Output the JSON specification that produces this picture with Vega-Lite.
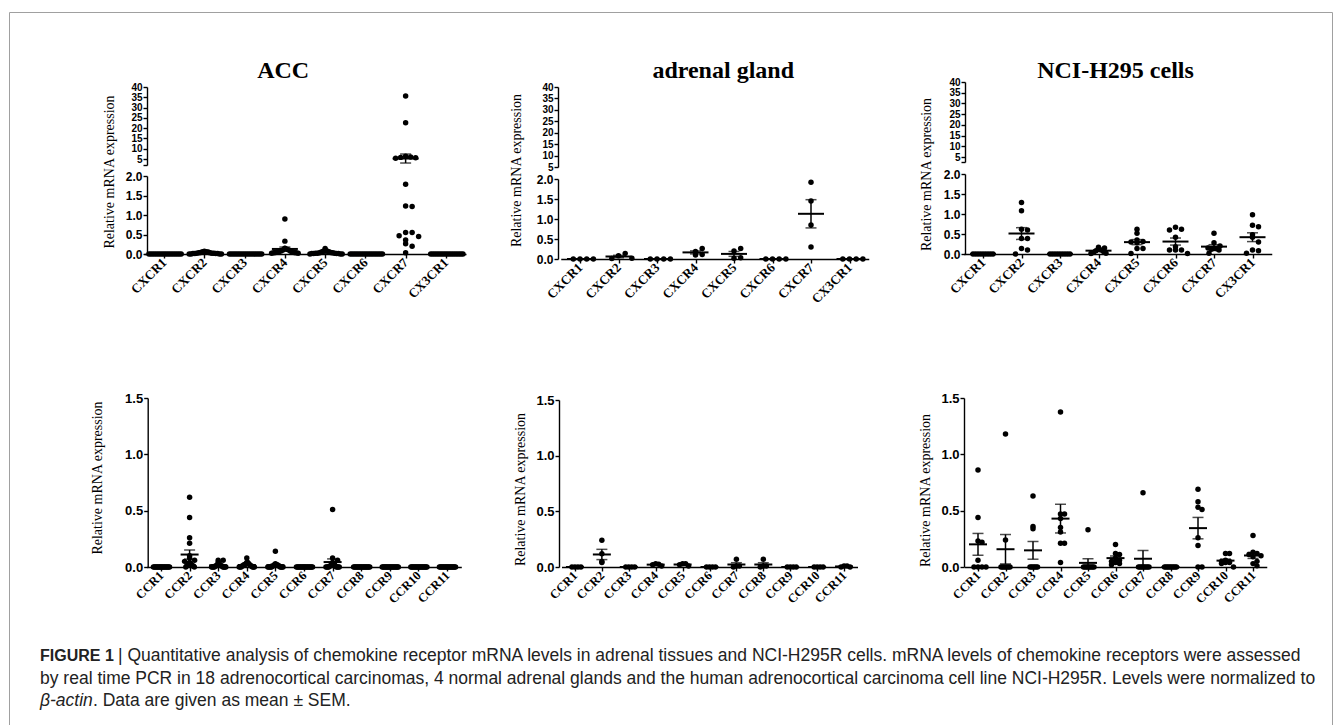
{
"$schema": "https://vega.github.io/schema/vega-lite/v6.json",
"width": 1323,
"height": 714,
"autosize": "none",
"padding": {"left": 9, "top": 12, "right": 10, "bottom": -1},
"background": "#ffffff",
"view": {"stroke": "#a0a0a0", "strokeWidth": 1},
"config": {
 "axis": {"domainColor": "#000", "domainWidth": 1.4, "tickColor": "#000", "tickWidth": 1.4, "tickSize": 4, "labelColor": "#000", "titleColor": "#000", "grid": false, "labelOverlap": false, "labelPadding": 1},
 "axisY": {"labelFont": "Liberation Sans", "labelFontWeight": "bold", "titleFont": "Liberation Serif", "titleFontWeight": "normal", "titleFontSize": 14, "titleAngle": 270, "titleAlign": "center", "titleBaseline": "middle"},
 "axisX": {"labelFont": "Liberation Serif", "labelFontWeight": "bold", "labelAngle": -45, "labelAlign": "right", "labelBaseline": "middle", "labelPadding": 2, "titleFont": "Liberation Serif", "titleFontWeight": "bold", "titleFontSize": 24, "titleAlign": "center", "titleBaseline": "alphabetic"}
},
"datasets": {
 "acc_cxcr": [
  {"receptor":"CXCR1","value":0},{"receptor":"CXCR1","value":0},{"receptor":"CXCR1","value":0},{"receptor":"CXCR1","value":0},{"receptor":"CXCR1","value":0},{"receptor":"CXCR1","value":0},
  {"receptor":"CXCR1","value":0},{"receptor":"CXCR1","value":0},{"receptor":"CXCR1","value":0},{"receptor":"CXCR1","value":0},{"receptor":"CXCR1","value":0},{"receptor":"CXCR1","value":0},
  {"receptor":"CXCR1","value":0},{"receptor":"CXCR1","value":0},{"receptor":"CXCR1","value":0},{"receptor":"CXCR1","value":0},{"receptor":"CXCR1","value":0},{"receptor":"CXCR1","value":0},
  {"receptor":"CXCR2","value":0.07},{"receptor":"CXCR2","value":0.06},{"receptor":"CXCR2","value":0.06},{"receptor":"CXCR2","value":0.05},{"receptor":"CXCR2","value":0.04},{"receptor":"CXCR2","value":0.03},
  {"receptor":"CXCR2","value":0.03},{"receptor":"CXCR2","value":0.02},{"receptor":"CXCR2","value":0.02},{"receptor":"CXCR2","value":0.02},{"receptor":"CXCR2","value":0.01},{"receptor":"CXCR2","value":0.01},
  {"receptor":"CXCR2","value":0.01},{"receptor":"CXCR2","value":0.01},{"receptor":"CXCR2","value":0},{"receptor":"CXCR2","value":0},{"receptor":"CXCR2","value":0},{"receptor":"CXCR2","value":0},
  {"receptor":"CXCR3","value":0},{"receptor":"CXCR3","value":0},{"receptor":"CXCR3","value":0},{"receptor":"CXCR3","value":0},{"receptor":"CXCR3","value":0},{"receptor":"CXCR3","value":0},
  {"receptor":"CXCR3","value":0},{"receptor":"CXCR3","value":0},{"receptor":"CXCR3","value":0},{"receptor":"CXCR3","value":0},{"receptor":"CXCR3","value":0},{"receptor":"CXCR3","value":0},
  {"receptor":"CXCR3","value":0},{"receptor":"CXCR3","value":0},{"receptor":"CXCR3","value":0},{"receptor":"CXCR3","value":0},{"receptor":"CXCR3","value":0},{"receptor":"CXCR3","value":0},
  {"receptor":"CXCR4","value":0.9},{"receptor":"CXCR4","value":0.33},{"receptor":"CXCR4","value":0.15},{"receptor":"CXCR4","value":0.14},{"receptor":"CXCR4","value":0.12},{"receptor":"CXCR4","value":0.1},
  {"receptor":"CXCR4","value":0.1},{"receptor":"CXCR4","value":0.08},{"receptor":"CXCR4","value":0.07},{"receptor":"CXCR4","value":0.06},{"receptor":"CXCR4","value":0.05},{"receptor":"CXCR4","value":0.05},
  {"receptor":"CXCR4","value":0.04},{"receptor":"CXCR4","value":0.04},{"receptor":"CXCR4","value":0.03},{"receptor":"CXCR4","value":0.03},{"receptor":"CXCR4","value":0.02},{"receptor":"CXCR4","value":0.02},
  {"receptor":"CXCR5","value":0.14},{"receptor":"CXCR5","value":0.08},{"receptor":"CXCR5","value":0.07},{"receptor":"CXCR5","value":0.06},{"receptor":"CXCR5","value":0.05},{"receptor":"CXCR5","value":0.04},
  {"receptor":"CXCR5","value":0.03},{"receptor":"CXCR5","value":0.03},{"receptor":"CXCR5","value":0.02},{"receptor":"CXCR5","value":0.02},{"receptor":"CXCR5","value":0.02},{"receptor":"CXCR5","value":0.01},
  {"receptor":"CXCR5","value":0.01},{"receptor":"CXCR5","value":0.01},{"receptor":"CXCR5","value":0.01},{"receptor":"CXCR5","value":0},{"receptor":"CXCR5","value":0},{"receptor":"CXCR5","value":0},
  {"receptor":"CXCR6","value":0},{"receptor":"CXCR6","value":0},{"receptor":"CXCR6","value":0},{"receptor":"CXCR6","value":0},{"receptor":"CXCR6","value":0},{"receptor":"CXCR6","value":0},
  {"receptor":"CXCR6","value":0},{"receptor":"CXCR6","value":0},{"receptor":"CXCR6","value":0},{"receptor":"CXCR6","value":0},{"receptor":"CXCR6","value":0},{"receptor":"CXCR6","value":0},
  {"receptor":"CXCR6","value":0},{"receptor":"CXCR6","value":0},{"receptor":"CXCR6","value":0},{"receptor":"CXCR6","value":0},{"receptor":"CXCR6","value":0},{"receptor":"CXCR6","value":0},
  {"receptor":"CXCR7","value":35.6},{"receptor":"CXCR7","value":22.6},{"receptor":"CXCR7","value":6.3},{"receptor":"CXCR7","value":6.0},{"receptor":"CXCR7","value":5.8},{"receptor":"CXCR7","value":5.6},
  {"receptor":"CXCR7","value":5.4},{"receptor":"CXCR7","value":1.79},{"receptor":"CXCR7","value":1.23},{"receptor":"CXCR7","value":1.22},{"receptor":"CXCR7","value":0.55},{"receptor":"CXCR7","value":0.55},
  {"receptor":"CXCR7","value":0.47},{"receptor":"CXCR7","value":0.45},{"receptor":"CXCR7","value":0.36},{"receptor":"CXCR7","value":0.26},{"receptor":"CXCR7","value":0.2},{"receptor":"CXCR7","value":0.03},
  {"receptor":"CX3CR1","value":0},{"receptor":"CX3CR1","value":0},{"receptor":"CX3CR1","value":0},{"receptor":"CX3CR1","value":0},{"receptor":"CX3CR1","value":0},{"receptor":"CX3CR1","value":0},
  {"receptor":"CX3CR1","value":0},{"receptor":"CX3CR1","value":0},{"receptor":"CX3CR1","value":0},{"receptor":"CX3CR1","value":0},{"receptor":"CX3CR1","value":0},{"receptor":"CX3CR1","value":0},
  {"receptor":"CX3CR1","value":0},{"receptor":"CX3CR1","value":0},{"receptor":"CX3CR1","value":0},{"receptor":"CX3CR1","value":0},{"receptor":"CX3CR1","value":0},{"receptor":"CX3CR1","value":0}
 ],
 "ag_cxcr": [
  {"receptor":"CXCR1","value":0},{"receptor":"CXCR1","value":0},{"receptor":"CXCR1","value":0},{"receptor":"CXCR1","value":0},
  {"receptor":"CXCR2","value":0.08},{"receptor":"CXCR2","value":0.14},{"receptor":"CXCR2","value":0.01},{"receptor":"CXCR2","value":0.02},
  {"receptor":"CXCR3","value":0},{"receptor":"CXCR3","value":0},{"receptor":"CXCR3","value":0},{"receptor":"CXCR3","value":0},
  {"receptor":"CXCR4","value":0.19},{"receptor":"CXCR4","value":0.1},{"receptor":"CXCR4","value":0.11},{"receptor":"CXCR4","value":0.26},
  {"receptor":"CXCR5","value":0.2},{"receptor":"CXCR5","value":0.26},{"receptor":"CXCR5","value":0.02},{"receptor":"CXCR5","value":0.03},
  {"receptor":"CXCR6","value":0},{"receptor":"CXCR6","value":0},{"receptor":"CXCR6","value":0},{"receptor":"CXCR6","value":0},
  {"receptor":"CXCR7","value":1.92},{"receptor":"CXCR7","value":1.45},{"receptor":"CXCR7","value":0.85},{"receptor":"CXCR7","value":0.3},
  {"receptor":"CX3CR1","value":0},{"receptor":"CX3CR1","value":0},{"receptor":"CX3CR1","value":0},{"receptor":"CX3CR1","value":0}
 ],
 "nci_cxcr": [
  {"receptor":"CXCR1","value":0},{"receptor":"CXCR1","value":0},{"receptor":"CXCR1","value":0},{"receptor":"CXCR1","value":0},{"receptor":"CXCR1","value":0},{"receptor":"CXCR1","value":0},{"receptor":"CXCR1","value":0},{"receptor":"CXCR1","value":0},{"receptor":"CXCR1","value":0},
  {"receptor":"CXCR2","value":1.29},{"receptor":"CXCR2","value":1.08},{"receptor":"CXCR2","value":0.62},{"receptor":"CXCR2","value":0.6},{"receptor":"CXCR2","value":0.39},{"receptor":"CXCR2","value":0.39},{"receptor":"CXCR2","value":0.14},{"receptor":"CXCR2","value":0.1},{"receptor":"CXCR2","value":0},
  {"receptor":"CXCR3","value":0},{"receptor":"CXCR3","value":0},{"receptor":"CXCR3","value":0},{"receptor":"CXCR3","value":0},{"receptor":"CXCR3","value":0},{"receptor":"CXCR3","value":0},{"receptor":"CXCR3","value":0},{"receptor":"CXCR3","value":0},{"receptor":"CXCR3","value":0},
  {"receptor":"CXCR4","value":0.17},{"receptor":"CXCR4","value":0.15},{"receptor":"CXCR4","value":0.12},{"receptor":"CXCR4","value":0.1},{"receptor":"CXCR4","value":0.08},{"receptor":"CXCR4","value":0.06},{"receptor":"CXCR4","value":0.04},{"receptor":"CXCR4","value":0.02},{"receptor":"CXCR4","value":0.01},
  {"receptor":"CXCR5","value":0.62},{"receptor":"CXCR5","value":0.52},{"receptor":"CXCR5","value":0.35},{"receptor":"CXCR5","value":0.31},{"receptor":"CXCR5","value":0.3},{"receptor":"CXCR5","value":0.28},{"receptor":"CXCR5","value":0.14},{"receptor":"CXCR5","value":0.14},{"receptor":"CXCR5","value":0.01},
  {"receptor":"CXCR6","value":0.67},{"receptor":"CXCR6","value":0.62},{"receptor":"CXCR6","value":0.6},{"receptor":"CXCR6","value":0.42},{"receptor":"CXCR6","value":0.18},{"receptor":"CXCR6","value":0.1},{"receptor":"CXCR6","value":0.1},{"receptor":"CXCR6","value":0.1},{"receptor":"CXCR6","value":0.01},
  {"receptor":"CXCR7","value":0.52},{"receptor":"CXCR7","value":0.28},{"receptor":"CXCR7","value":0.2},{"receptor":"CXCR7","value":0.15},{"receptor":"CXCR7","value":0.14},{"receptor":"CXCR7","value":0.13},{"receptor":"CXCR7","value":0.12},{"receptor":"CXCR7","value":0.1},{"receptor":"CXCR7","value":0.02},
  {"receptor":"CX3CR1","value":0.98},{"receptor":"CX3CR1","value":0.72},{"receptor":"CX3CR1","value":0.68},{"receptor":"CX3CR1","value":0.48},{"receptor":"CX3CR1","value":0.42},{"receptor":"CX3CR1","value":0.3},{"receptor":"CX3CR1","value":0.1},{"receptor":"CX3CR1","value":0.08},{"receptor":"CX3CR1","value":0.02}
 ],
 "acc_ccr": [
  {"receptor":"CCR1","value":0},{"receptor":"CCR1","value":0},{"receptor":"CCR1","value":0},{"receptor":"CCR1","value":0},{"receptor":"CCR1","value":0},{"receptor":"CCR1","value":0},
  {"receptor":"CCR1","value":0},{"receptor":"CCR1","value":0},{"receptor":"CCR1","value":0},{"receptor":"CCR1","value":0},{"receptor":"CCR1","value":0},{"receptor":"CCR1","value":0},
  {"receptor":"CCR1","value":0},{"receptor":"CCR1","value":0},{"receptor":"CCR1","value":0},{"receptor":"CCR1","value":0},{"receptor":"CCR1","value":0},{"receptor":"CCR1","value":0},
  {"receptor":"CCR2","value":0.62},{"receptor":"CCR2","value":0.44},{"receptor":"CCR2","value":0.26},{"receptor":"CCR2","value":0.21},{"receptor":"CCR2","value":0.1},{"receptor":"CCR2","value":0.08},
  {"receptor":"CCR2","value":0.06},{"receptor":"CCR2","value":0.05},{"receptor":"CCR2","value":0.04},{"receptor":"CCR2","value":0.03},{"receptor":"CCR2","value":0.03},{"receptor":"CCR2","value":0.02},
  {"receptor":"CCR2","value":0.02},{"receptor":"CCR2","value":0.01},{"receptor":"CCR2","value":0.01},{"receptor":"CCR2","value":0.01},{"receptor":"CCR2","value":0},{"receptor":"CCR2","value":0},
  {"receptor":"CCR3","value":0.06},{"receptor":"CCR3","value":0.06},{"receptor":"CCR3","value":0.04},{"receptor":"CCR3","value":0.03},{"receptor":"CCR3","value":0.02},{"receptor":"CCR3","value":0.02},
  {"receptor":"CCR3","value":0.01},{"receptor":"CCR3","value":0.01},{"receptor":"CCR3","value":0.01},{"receptor":"CCR3","value":0.01},{"receptor":"CCR3","value":0},{"receptor":"CCR3","value":0},
  {"receptor":"CCR3","value":0},{"receptor":"CCR3","value":0},{"receptor":"CCR3","value":0},{"receptor":"CCR3","value":0},{"receptor":"CCR3","value":0},{"receptor":"CCR3","value":0},
  {"receptor":"CCR4","value":0.08},{"receptor":"CCR4","value":0.04},{"receptor":"CCR4","value":0.04},{"receptor":"CCR4","value":0.03},{"receptor":"CCR4","value":0.03},{"receptor":"CCR4","value":0.02},
  {"receptor":"CCR4","value":0.02},{"receptor":"CCR4","value":0.02},{"receptor":"CCR4","value":0.01},{"receptor":"CCR4","value":0.01},{"receptor":"CCR4","value":0.01},{"receptor":"CCR4","value":0.01},
  {"receptor":"CCR4","value":0},{"receptor":"CCR4","value":0},{"receptor":"CCR4","value":0},{"receptor":"CCR4","value":0},{"receptor":"CCR4","value":0},{"receptor":"CCR4","value":0},
  {"receptor":"CCR5","value":0.14},{"receptor":"CCR5","value":0.03},{"receptor":"CCR5","value":0.02},{"receptor":"CCR5","value":0.02},{"receptor":"CCR5","value":0.02},{"receptor":"CCR5","value":0.01},
  {"receptor":"CCR5","value":0.01},{"receptor":"CCR5","value":0.01},{"receptor":"CCR5","value":0.01},{"receptor":"CCR5","value":0},{"receptor":"CCR5","value":0},{"receptor":"CCR5","value":0},
  {"receptor":"CCR5","value":0},{"receptor":"CCR5","value":0},{"receptor":"CCR5","value":0},{"receptor":"CCR5","value":0},{"receptor":"CCR5","value":0},{"receptor":"CCR5","value":0},
  {"receptor":"CCR6","value":0},{"receptor":"CCR6","value":0},{"receptor":"CCR6","value":0},{"receptor":"CCR6","value":0},{"receptor":"CCR6","value":0},{"receptor":"CCR6","value":0},
  {"receptor":"CCR6","value":0},{"receptor":"CCR6","value":0},{"receptor":"CCR6","value":0},{"receptor":"CCR6","value":0},{"receptor":"CCR6","value":0},{"receptor":"CCR6","value":0},
  {"receptor":"CCR6","value":0},{"receptor":"CCR6","value":0},{"receptor":"CCR6","value":0},{"receptor":"CCR6","value":0},{"receptor":"CCR6","value":0},{"receptor":"CCR6","value":0},
  {"receptor":"CCR7","value":0.51},{"receptor":"CCR7","value":0.08},{"receptor":"CCR7","value":0.06},{"receptor":"CCR7","value":0.04},{"receptor":"CCR7","value":0.03},{"receptor":"CCR7","value":0.02},
  {"receptor":"CCR7","value":0.02},{"receptor":"CCR7","value":0.01},{"receptor":"CCR7","value":0.01},{"receptor":"CCR7","value":0.01},{"receptor":"CCR7","value":0},{"receptor":"CCR7","value":0},
  {"receptor":"CCR7","value":0},{"receptor":"CCR7","value":0},{"receptor":"CCR7","value":0},{"receptor":"CCR7","value":0},{"receptor":"CCR7","value":0},{"receptor":"CCR7","value":0},
  {"receptor":"CCR8","value":0},{"receptor":"CCR8","value":0},{"receptor":"CCR8","value":0},{"receptor":"CCR8","value":0},{"receptor":"CCR8","value":0},{"receptor":"CCR8","value":0},
  {"receptor":"CCR8","value":0},{"receptor":"CCR8","value":0},{"receptor":"CCR8","value":0},{"receptor":"CCR8","value":0},{"receptor":"CCR8","value":0},{"receptor":"CCR8","value":0},
  {"receptor":"CCR8","value":0},{"receptor":"CCR8","value":0},{"receptor":"CCR8","value":0},{"receptor":"CCR8","value":0},{"receptor":"CCR8","value":0},{"receptor":"CCR8","value":0},
  {"receptor":"CCR9","value":0},{"receptor":"CCR9","value":0},{"receptor":"CCR9","value":0},{"receptor":"CCR9","value":0},{"receptor":"CCR9","value":0},{"receptor":"CCR9","value":0},
  {"receptor":"CCR9","value":0},{"receptor":"CCR9","value":0},{"receptor":"CCR9","value":0},{"receptor":"CCR9","value":0},{"receptor":"CCR9","value":0},{"receptor":"CCR9","value":0},
  {"receptor":"CCR9","value":0},{"receptor":"CCR9","value":0},{"receptor":"CCR9","value":0},{"receptor":"CCR9","value":0},{"receptor":"CCR9","value":0},{"receptor":"CCR9","value":0},
  {"receptor":"CCR10","value":0},{"receptor":"CCR10","value":0},{"receptor":"CCR10","value":0},{"receptor":"CCR10","value":0},{"receptor":"CCR10","value":0},{"receptor":"CCR10","value":0},
  {"receptor":"CCR10","value":0},{"receptor":"CCR10","value":0},{"receptor":"CCR10","value":0},{"receptor":"CCR10","value":0},{"receptor":"CCR10","value":0},{"receptor":"CCR10","value":0},
  {"receptor":"CCR10","value":0},{"receptor":"CCR10","value":0},{"receptor":"CCR10","value":0},{"receptor":"CCR10","value":0},{"receptor":"CCR10","value":0},{"receptor":"CCR10","value":0},
  {"receptor":"CCR11","value":0},{"receptor":"CCR11","value":0},{"receptor":"CCR11","value":0},{"receptor":"CCR11","value":0},{"receptor":"CCR11","value":0},{"receptor":"CCR11","value":0},
  {"receptor":"CCR11","value":0},{"receptor":"CCR11","value":0},{"receptor":"CCR11","value":0},{"receptor":"CCR11","value":0},{"receptor":"CCR11","value":0},{"receptor":"CCR11","value":0},
  {"receptor":"CCR11","value":0},{"receptor":"CCR11","value":0},{"receptor":"CCR11","value":0},{"receptor":"CCR11","value":0},{"receptor":"CCR11","value":0},{"receptor":"CCR11","value":0}
 ],
 "ag_ccr": [
  {"receptor":"CCR1","value":0},{"receptor":"CCR1","value":0},{"receptor":"CCR1","value":0},{"receptor":"CCR1","value":0},
  {"receptor":"CCR2","value":0.24},{"receptor":"CCR2","value":0.12},{"receptor":"CCR2","value":0.05},{"receptor":"CCR2","value":0.04},
  {"receptor":"CCR3","value":0},{"receptor":"CCR3","value":0},{"receptor":"CCR3","value":0},{"receptor":"CCR3","value":0},
  {"receptor":"CCR4","value":0.03},{"receptor":"CCR4","value":0.025},{"receptor":"CCR4","value":0.02},{"receptor":"CCR4","value":0.01},
  {"receptor":"CCR5","value":0.03},{"receptor":"CCR5","value":0.03},{"receptor":"CCR5","value":0.02},{"receptor":"CCR5","value":0.01},
  {"receptor":"CCR6","value":0},{"receptor":"CCR6","value":0},{"receptor":"CCR6","value":0},{"receptor":"CCR6","value":0},
  {"receptor":"CCR7","value":0.07},{"receptor":"CCR7","value":0.01},{"receptor":"CCR7","value":0.01},{"receptor":"CCR7","value":0},
  {"receptor":"CCR8","value":0.07},{"receptor":"CCR8","value":0.01},{"receptor":"CCR8","value":0.01},{"receptor":"CCR8","value":0},
  {"receptor":"CCR9","value":0},{"receptor":"CCR9","value":0},{"receptor":"CCR9","value":0},{"receptor":"CCR9","value":0},
  {"receptor":"CCR10","value":0},{"receptor":"CCR10","value":0},{"receptor":"CCR10","value":0},{"receptor":"CCR10","value":0},
  {"receptor":"CCR11","value":0.01},{"receptor":"CCR11","value":0.01},{"receptor":"CCR11","value":0},{"receptor":"CCR11","value":0}
 ],
 "nci_ccr": [
  {"receptor":"CCR1","value":0.86},{"receptor":"CCR1","value":0.44},{"receptor":"CCR1","value":0.23},{"receptor":"CCR1","value":0.22},{"receptor":"CCR1","value":0.06},{"receptor":"CCR1","value":0},{"receptor":"CCR1","value":0},{"receptor":"CCR1","value":0},{"receptor":"CCR1","value":0},
  {"receptor":"CCR2","value":1.18},{"receptor":"CCR2","value":0.24},{"receptor":"CCR2","value":0},{"receptor":"CCR2","value":0},{"receptor":"CCR2","value":0},{"receptor":"CCR2","value":0},{"receptor":"CCR2","value":0},{"receptor":"CCR2","value":0},{"receptor":"CCR2","value":0},
  {"receptor":"CCR3","value":0.63},{"receptor":"CCR3","value":0.36},{"receptor":"CCR3","value":0.34},{"receptor":"CCR3","value":0},{"receptor":"CCR3","value":0},{"receptor":"CCR3","value":0},{"receptor":"CCR3","value":0},{"receptor":"CCR3","value":0},{"receptor":"CCR3","value":0},
  {"receptor":"CCR4","value":1.375},{"receptor":"CCR4","value":0.47},{"receptor":"CCR4","value":0.47},{"receptor":"CCR4","value":0.43},{"receptor":"CCR4","value":0.35},{"receptor":"CCR4","value":0.31},{"receptor":"CCR4","value":0.21},{"receptor":"CCR4","value":0.21},{"receptor":"CCR4","value":0.04},
  {"receptor":"CCR5","value":0.33},{"receptor":"CCR5","value":0},{"receptor":"CCR5","value":0},{"receptor":"CCR5","value":0},{"receptor":"CCR5","value":0},{"receptor":"CCR5","value":0},{"receptor":"CCR5","value":0},{"receptor":"CCR5","value":0},{"receptor":"CCR5","value":0},
  {"receptor":"CCR6","value":0.2},{"receptor":"CCR6","value":0.12},{"receptor":"CCR6","value":0.11},{"receptor":"CCR6","value":0.08},{"receptor":"CCR6","value":0.06},{"receptor":"CCR6","value":0.05},{"receptor":"CCR6","value":0.04},{"receptor":"CCR6","value":0.03},{"receptor":"CCR6","value":0.02},
  {"receptor":"CCR7","value":0.66},{"receptor":"CCR7","value":0},{"receptor":"CCR7","value":0},{"receptor":"CCR7","value":0},{"receptor":"CCR7","value":0},{"receptor":"CCR7","value":0},{"receptor":"CCR7","value":0},{"receptor":"CCR7","value":0},{"receptor":"CCR7","value":0},
  {"receptor":"CCR8","value":0},{"receptor":"CCR8","value":0},{"receptor":"CCR8","value":0},{"receptor":"CCR8","value":0},{"receptor":"CCR8","value":0},{"receptor":"CCR8","value":0},{"receptor":"CCR8","value":0},{"receptor":"CCR8","value":0},{"receptor":"CCR8","value":0},
  {"receptor":"CCR9","value":0.69},{"receptor":"CCR9","value":0.58},{"receptor":"CCR9","value":0.53},{"receptor":"CCR9","value":0.51},{"receptor":"CCR9","value":0.26},{"receptor":"CCR9","value":0.19},{"receptor":"CCR9","value":0},{"receptor":"CCR9","value":0},
  {"receptor":"CCR10","value":0.12},{"receptor":"CCR10","value":0.12},{"receptor":"CCR10","value":0.06},{"receptor":"CCR10","value":0.05},{"receptor":"CCR10","value":0.05},{"receptor":"CCR10","value":0.04},{"receptor":"CCR10","value":0.04},{"receptor":"CCR10","value":0.03},{"receptor":"CCR10","value":0},
  {"receptor":"CCR11","value":0.28},{"receptor":"CCR11","value":0.13},{"receptor":"CCR11","value":0.12},{"receptor":"CCR11","value":0.11},{"receptor":"CCR11","value":0.1},{"receptor":"CCR11","value":0.09},{"receptor":"CCR11","value":0.05},{"receptor":"CCR11","value":0.03},{"receptor":"CCR11","value":0.01}
 ]
},
"layer": [
 {
  "data": {"name": "acc_cxcr"},
  "encoding": {
   "x": {"field": "receptor", "type": "nominal", "scale": {"type": "point", "domain": ["CXCR1","CXCR2","CXCR3","CXCR4","CXCR5","CXCR6","CXCR7","CX3CR1"], "range": [135, 457], "padding": 0.5}, "axis": {"orient": "bottom", "offset": -472, "title": null, "labelFontSize": 13}},
   "y": {"field": "value", "type": "quantitative", "scale": {"domain": [0, 2], "range": [242, 164], "nice": false, "zero": false}, "axis": {"orient": "left", "offset": -138, "values": [0, 0.5, 1, 1.5, 2], "format": ".1f", "labelFontSize": 12, "title": "Relative mRNA expression", "titleX": -38, "titleY": 159.5}}
  },
  "layer": [
   {"transform": [{"filter": "datum.value <= 2"}, {"bin": {"extent": [0, 2.1], "step": 0.15, "nice": false}, "field": "value", "as": "vb"}, {"joinaggregate": [{"op": "count", "field": "value", "as": "nb"}], "groupby": ["receptor", "vb"]}, {"window": [{"op": "row_number", "as": "slot"}], "groupby": ["receptor", "vb"]}, {"filter": "datum.nb > 4"}],
    "mark": {"type": "circle", "size": 30, "color": "#000", "opacity": 1},
    "encoding": {"xOffset": {"field": "slot", "type": "ordinal", "scale": {"type": "point", "domain": [19,17,15,13,11,9,7,5,3,1,2,4,6,8,10,12,14,16,18], "range": [-17.1, 17.1], "padding": 0}}}},
   {"transform": [{"filter": "datum.value <= 2"}, {"bin": {"extent": [0, 2.1], "step": 0.15, "nice": false}, "field": "value", "as": "vb"}, {"joinaggregate": [{"op": "count", "field": "value", "as": "nb"}], "groupby": ["receptor", "vb"]}, {"window": [{"op": "row_number", "as": "slot"}], "groupby": ["receptor", "vb"]}, {"filter": "datum.nb <= 4"}],
    "mark": {"type": "circle", "size": 30, "color": "#000", "opacity": 1},
    "encoding": {"xOffset": {"field": "slot", "type": "ordinal", "scale": {"type": "point", "domain": [5,3,1,2,4], "range": [-13, 13], "padding": 0}}}},
   {"transform": [{"filter": "datum.receptor != 'CXCR7'"}],
    "mark": {"type": "tick", "size": 26, "thickness": 2, "color": "#000"},
    "encoding": {"y": {"aggregate": "mean", "field": "value", "type": "quantitative", "scale": {"domain": [0, 2], "range": [242, 164], "nice": false, "zero": false}, "axis": {"orient": "left", "offset": -138, "values": [0, 0.5, 1, 1.5, 2], "format": ".1f", "labelFontSize": 12, "title": "Relative mRNA expression", "titleX": -38, "titleY": 159.5}}}},
   {"transform": [{"filter": "datum.receptor != 'CXCR7'"}],
    "mark": {"type": "errorbar", "extent": "stderr", "ticks": true, "size": 11, "thickness": 1.5, "color": "#000"}}
  ],
  "resolve": {"scale": {"xOffset": "independent"}}
 },
 {
  "data": {"name": "acc_cxcr"},
  "encoding": {
   "x": {"field": "receptor", "type": "nominal", "scale": {"type": "point", "domain": ["CXCR1","CXCR2","CXCR3","CXCR4","CXCR5","CXCR6","CXCR7","CX3CR1"], "range": [135, 457], "padding": 0.5}, "axis": {"orient": "top", "offset": 0, "domain": false, "ticks": false, "labels": false, "title": "ACC", "titleX": 273.7, "titleY": 65}},
   "y": {"field": "value", "type": "quantitative", "scale": {"domain": [2.1, 40], "range": [153, 75], "nice": false, "zero": false}, "axis": {"orient": "left", "offset": -138, "values": [2.1, 5, 10, 15, 20, 25, 30, 35, 40], "labelExpr": "datum.value < 5 ? '' : datum.label", "labelFontSize": 10, "title": null}}
  },
  "layer": [
   {"transform": [{"filter": "datum.value > 2"}, {"bin": {"extent": [0, 45], "step": 5, "nice": false}, "field": "value", "as": "vb"}, {"window": [{"op": "row_number", "as": "slot"}], "groupby": ["receptor", "vb"]}],
    "mark": {"type": "circle", "size": 30, "color": "#000", "opacity": 1},
    "encoding": {"xOffset": {"field": "slot", "type": "ordinal", "scale": {"type": "point", "domain": [5,3,1,2,4], "range": [-10, 10], "padding": 0}}}},
   {"transform": [{"filter": "datum.receptor == 'CXCR7'"}],
    "mark": {"type": "tick", "size": 26, "thickness": 2, "color": "#000"},
    "encoding": {"y": {"aggregate": "mean", "field": "value", "type": "quantitative", "scale": {"domain": [2.1, 40], "range": [153, 75], "nice": false, "zero": false}, "axis": {"orient": "left", "offset": -138, "values": [2.1, 5, 10, 15, 20, 25, 30, 35, 40], "labelExpr": "datum.value < 5 ? '' : datum.label", "labelFontSize": 10, "title": null}}}},
   {"transform": [{"filter": "datum.receptor == 'CXCR7'"}],
    "mark": {"type": "errorbar", "extent": "stderr", "ticks": true, "size": 11, "thickness": 1.5, "color": "#000"}}
  ]
 },
 {
  "data": {"name": "ag_cxcr"},
  "encoding": {
   "x": {"field": "receptor", "type": "nominal", "scale": {"type": "point", "domain": ["CXCR1","CXCR2","CXCR3","CXCR4","CXCR5","CXCR6","CXCR7","CX3CR1"], "range": [551.75, 859.75], "padding": 0.5}, "axis": {"orient": "bottom", "offset": -467, "title": null, "labelFontSize": 13}},
   "y": {"field": "value", "type": "quantitative", "scale": {"domain": [0, 2], "range": [247, 167], "nice": false, "zero": false}, "axis": {"orient": "left", "offset": -549, "values": [0, 0.5, 1, 1.5, 2], "format": ".1f", "labelFontSize": 12, "title": "Relative mRNA expression", "titleX": -42, "titleY": 158}}
  },
  "layer": [
   {"transform": [{"bin": {"extent": [0, 2.1], "step": 0.15, "nice": false}, "field": "value", "as": "vb"}, {"window": [{"op": "row_number", "as": "slot"}], "groupby": ["receptor", "vb"]}],
    "mark": {"type": "circle", "size": 30, "color": "#000", "opacity": 1},
    "encoding": {"xOffset": {"field": "slot", "type": "ordinal", "scale": {"type": "point", "domain": [5,3,1,2,4], "range": [-13.4, 13.4], "padding": 0}}}},
   {"mark": {"type": "tick", "size": 26, "thickness": 2, "color": "#000"},
    "encoding": {"y": {"aggregate": "mean", "field": "value", "type": "quantitative", "scale": {"domain": [0, 2], "range": [247, 167], "nice": false, "zero": false}, "axis": {"orient": "left", "offset": -549, "values": [0, 0.5, 1, 1.5, 2], "format": ".1f", "labelFontSize": 12, "title": "Relative mRNA expression", "titleX": -42, "titleY": 158}}}},
   {"mark": {"type": "errorbar", "extent": "stderr", "ticks": true, "size": 11, "thickness": 1.5, "color": "#000"}}
  ]
 },
 {
  "data": {"name": "ag_cxcr"},
  "transform": [{"filter": "datum.value > 2"}],
  "mark": {"type": "circle", "size": 30, "color": "#000", "opacity": 1},
  "encoding": {
   "x": {"field": "receptor", "type": "nominal", "scale": {"type": "point", "domain": ["CXCR1","CXCR2","CXCR3","CXCR4","CXCR5","CXCR6","CXCR7","CX3CR1"], "range": [551.75, 859.75], "padding": 0.5}, "axis": {"orient": "top", "offset": 0, "domain": false, "ticks": false, "labels": false, "title": "adrenal gland", "titleX": 713.7, "titleY": 65}},
   "y": {"field": "value", "type": "quantitative", "scale": {"domain": [5, 40], "range": [155, 75], "nice": false, "zero": false}, "axis": {"orient": "left", "offset": -549, "values": [5, 10, 15, 20, 25, 30, 35, 40], "labelFontSize": 10, "title": null}}
  }
 },
 {
  "data": {"name": "nci_cxcr"},
  "encoding": {
   "x": {"field": "receptor", "type": "nominal", "scale": {"type": "point", "domain": ["CXCR1","CXCR2","CXCR3","CXCR4","CXCR5","CXCR6","CXCR7","CX3CR1"], "range": [954.75, 1262.75], "padding": 0.5}, "axis": {"orient": "bottom", "offset": -472, "title": null, "labelFontSize": 13}},
   "y": {"field": "value", "type": "quantitative", "scale": {"domain": [0, 2], "range": [242, 162], "nice": false, "zero": false}, "axis": {"orient": "left", "offset": -956, "values": [0, 0.5, 1, 1.5, 2], "format": ".1f", "labelFontSize": 12, "title": "Relative mRNA expression", "titleX": -39, "titleY": 162}}
  },
  "layer": [
   {"transform": [{"bin": {"extent": [0, 2.1], "step": 0.15, "nice": false}, "field": "value", "as": "vb"}, {"joinaggregate": [{"op": "count", "field": "value", "as": "nb"}], "groupby": ["receptor", "vb"]}, {"window": [{"op": "row_number", "as": "slot"}], "groupby": ["receptor", "vb"]}, {"filter": "datum.nb > 4"}],
    "mark": {"type": "circle", "size": 30, "color": "#000", "opacity": 1},
    "encoding": {"xOffset": {"field": "slot", "type": "ordinal", "scale": {"type": "point", "domain": [19,17,15,13,11,9,7,5,3,1,2,4,6,8,10,12,14,16,18], "range": [-22.5, 22.5], "padding": 0}}}},
   {"transform": [{"bin": {"extent": [0, 2.1], "step": 0.15, "nice": false}, "field": "value", "as": "vb"}, {"joinaggregate": [{"op": "count", "field": "value", "as": "nb"}], "groupby": ["receptor", "vb"]}, {"window": [{"op": "row_number", "as": "slot"}], "groupby": ["receptor", "vb"]}, {"filter": "datum.nb <= 4"}],
    "mark": {"type": "circle", "size": 30, "color": "#000", "opacity": 1},
    "encoding": {"xOffset": {"field": "slot", "type": "ordinal", "scale": {"type": "point", "domain": [5,3,1,2,4], "range": [-12, 12], "padding": 0}}}},
   {"mark": {"type": "tick", "size": 26, "thickness": 2, "color": "#000"},
    "encoding": {"y": {"aggregate": "mean", "field": "value", "type": "quantitative", "scale": {"domain": [0, 2], "range": [242, 162], "nice": false, "zero": false}, "axis": {"orient": "left", "offset": -956, "values": [0, 0.5, 1, 1.5, 2], "format": ".1f", "labelFontSize": 12, "title": "Relative mRNA expression", "titleX": -39, "titleY": 162}}}},
   {"mark": {"type": "errorbar", "extent": "stderr", "ticks": true, "size": 11, "thickness": 1.5, "color": "#000"}}
  ],
  "resolve": {"scale": {"xOffset": "independent"}}
 },
 {
  "data": {"name": "nci_cxcr"},
  "transform": [{"filter": "datum.value > 2"}],
  "mark": {"type": "circle", "size": 30, "color": "#000", "opacity": 1},
  "encoding": {
   "x": {"field": "receptor", "type": "nominal", "scale": {"type": "point", "domain": ["CXCR1","CXCR2","CXCR3","CXCR4","CXCR5","CXCR6","CXCR7","CX3CR1"], "range": [954.75, 1262.75], "padding": 0.5}, "axis": {"orient": "top", "offset": 0, "domain": false, "ticks": false, "labels": false, "title": "NCI-H295 cells", "titleX": 1106, "titleY": 65}},
   "y": {"field": "value", "type": "quantitative", "scale": {"domain": [2.67, 40], "range": [150, 70], "nice": false, "zero": false}, "axis": {"orient": "left", "offset": -956, "values": [2.67, 5, 10, 15, 20, 25, 30, 35, 40], "labelExpr": "datum.value < 5 ? '' : datum.label", "labelFontSize": 10, "title": null}}
  }
 },
 {
  "data": {"name": "acc_ccr"},
  "encoding": {
   "x": {"field": "receptor", "type": "nominal", "scale": {"type": "point", "domain": ["CCR1","CCR2","CCR3","CCR4","CCR5","CCR6","CCR7","CCR8","CCR9","CCR10","CCR11"], "range": [137.7, 452.3], "padding": 0.5}, "axis": {"orient": "bottom", "offset": -159, "title": null, "labelFontSize": 12.5}},
   "y": {"field": "value", "type": "quantitative", "scale": {"domain": [0, 1.5], "range": [555, 386], "nice": false, "zero": false}, "axis": {"orient": "left", "offset": -138.7, "values": [0, 0.5, 1, 1.5], "format": ".1f", "labelFontSize": 13, "title": "Relative mRNA expression", "titleX": -50, "titleY": 465.5}}
  },
  "layer": [
   {"transform": [{"bin": {"extent": [0, 1.55], "step": 0.05, "nice": false}, "field": "value", "as": "vb"}, {"joinaggregate": [{"op": "count", "field": "value", "as": "nb"}], "groupby": ["receptor", "vb"]}, {"window": [{"op": "row_number", "as": "slot"}], "groupby": ["receptor", "vb"]}, {"filter": "datum.nb > 4"}],
    "mark": {"type": "circle", "size": 30, "color": "#000", "opacity": 1},
    "encoding": {"xOffset": {"field": "slot", "type": "ordinal", "scale": {"type": "point", "domain": [19,17,15,13,11,9,7,5,3,1,2,4,6,8,10,12,14,16,18], "range": [-8.55, 8.55], "padding": 0}}}},
   {"transform": [{"bin": {"extent": [0, 1.55], "step": 0.05, "nice": false}, "field": "value", "as": "vb"}, {"joinaggregate": [{"op": "count", "field": "value", "as": "nb"}], "groupby": ["receptor", "vb"]}, {"window": [{"op": "row_number", "as": "slot"}], "groupby": ["receptor", "vb"]}, {"filter": "datum.nb <= 4"}],
    "mark": {"type": "circle", "size": 30, "color": "#000", "opacity": 1},
    "encoding": {"xOffset": {"field": "slot", "type": "ordinal", "scale": {"type": "point", "domain": [5,3,1,2,4], "range": [-10, 10], "padding": 0}}}},
   {"mark": {"type": "tick", "size": 18, "thickness": 2, "color": "#000"},
    "encoding": {"y": {"aggregate": "mean", "field": "value", "type": "quantitative", "scale": {"domain": [0, 1.5], "range": [555, 386], "nice": false, "zero": false}, "axis": {"orient": "left", "offset": -138.7, "values": [0, 0.5, 1, 1.5], "format": ".1f", "labelFontSize": 13, "title": "Relative mRNA expression", "titleX": -50, "titleY": 465.5}}}},
   {"mark": {"type": "errorbar", "extent": "stderr", "ticks": true, "size": 11, "thickness": 1.5, "color": "#000"}}
  ],
  "resolve": {"scale": {"xOffset": "independent"}}
 },
 {
  "data": {"name": "ag_ccr"},
  "encoding": {
   "x": {"field": "receptor", "type": "nominal", "scale": {"type": "point", "domain": ["CCR1","CCR2","CCR3","CCR4","CCR5","CCR6","CCR7","CCR8","CCR9","CCR10","CCR11"], "range": [552.5, 848.5], "padding": 0.5}, "axis": {"orient": "bottom", "offset": -159, "title": null, "labelFontSize": 12.5}},
   "y": {"field": "value", "type": "quantitative", "scale": {"domain": [0, 1.5], "range": [555, 388], "nice": false, "zero": false}, "axis": {"orient": "left", "offset": -550, "values": [0, 0.5, 1, 1.5], "format": ".1f", "labelFontSize": 13, "title": "Relative mRNA expression", "titleX": -39, "titleY": 477}}
  },
  "layer": [
   {"transform": [{"bin": {"extent": [0, 1.55], "step": 0.05, "nice": false}, "field": "value", "as": "vb"}, {"window": [{"op": "row_number", "as": "slot"}], "groupby": ["receptor", "vb"]}],
    "mark": {"type": "circle", "size": 30, "color": "#000", "opacity": 1},
    "encoding": {"xOffset": {"field": "slot", "type": "ordinal", "scale": {"type": "point", "domain": [5,3,1,2,4], "range": [-6, 6], "padding": 0}}}},
   {"mark": {"type": "tick", "size": 18, "thickness": 2, "color": "#000"},
    "encoding": {"y": {"aggregate": "mean", "field": "value", "type": "quantitative", "scale": {"domain": [0, 1.5], "range": [555, 388], "nice": false, "zero": false}, "axis": {"orient": "left", "offset": -550, "values": [0, 0.5, 1, 1.5], "format": ".1f", "labelFontSize": 13, "title": "Relative mRNA expression", "titleX": -39, "titleY": 477}}}},
   {"mark": {"type": "errorbar", "extent": "stderr", "ticks": true, "size": 11, "thickness": 1.5, "color": "#000"}}
  ]
 },
 {
  "data": {"name": "nci_ccr"},
  "encoding": {
   "x": {"field": "receptor", "type": "nominal", "scale": {"type": "point", "domain": ["CCR1","CCR2","CCR3","CCR4","CCR5","CCR6","CCR7","CCR8","CCR9","CCR10","CCR11"], "range": [955.25, 1257.75], "padding": 0.5}, "axis": {"orient": "bottom", "offset": -159, "title": null, "labelFontSize": 12.5}},
   "y": {"field": "value", "type": "quantitative", "scale": {"domain": [0, 1.5], "range": [555, 386], "nice": false, "zero": false}, "axis": {"orient": "left", "offset": -955, "values": [0, 0.5, 1, 1.5], "format": ".1f", "labelFontSize": 13, "title": "Relative mRNA expression", "titleX": -39, "titleY": 478}}
  },
  "layer": [
   {"transform": [{"bin": {"extent": [0, 1.55], "step": 0.05, "nice": false}, "field": "value", "as": "vb"}, {"joinaggregate": [{"op": "count", "field": "value", "as": "nb"}], "groupby": ["receptor", "vb"]}, {"window": [{"op": "row_number", "as": "slot"}], "groupby": ["receptor", "vb"]}, {"filter": "datum.nb > 4"}],
    "mark": {"type": "circle", "size": 30, "color": "#000", "opacity": 1},
    "encoding": {"xOffset": {"field": "slot", "type": "ordinal", "scale": {"type": "point", "domain": [19,17,15,13,11,9,7,5,3,1,2,4,6,8,10,12,14,16,18], "range": [-13.5, 13.5], "padding": 0}}}},
   {"transform": [{"bin": {"extent": [0, 1.55], "step": 0.05, "nice": false}, "field": "value", "as": "vb"}, {"joinaggregate": [{"op": "count", "field": "value", "as": "nb"}], "groupby": ["receptor", "vb"]}, {"window": [{"op": "row_number", "as": "slot"}], "groupby": ["receptor", "vb"]}, {"filter": "datum.nb <= 4"}],
    "mark": {"type": "circle", "size": 30, "color": "#000", "opacity": 1},
    "encoding": {"xOffset": {"field": "slot", "type": "ordinal", "scale": {"type": "point", "domain": [5,3,1,2,4], "range": [-8, 8], "padding": 0}}}},
   {"mark": {"type": "tick", "size": 18, "thickness": 2, "color": "#000"},
    "encoding": {"y": {"aggregate": "mean", "field": "value", "type": "quantitative", "scale": {"domain": [0, 1.5], "range": [555, 386], "nice": false, "zero": false}, "axis": {"orient": "left", "offset": -955, "values": [0, 0.5, 1, 1.5], "format": ".1f", "labelFontSize": 13, "title": "Relative mRNA expression", "titleX": -39, "titleY": 478}}}},
   {"mark": {"type": "errorbar", "extent": "stderr", "ticks": true, "size": 11, "thickness": 1.5, "color": "#000"}}
  ],
  "resolve": {"scale": {"xOffset": "independent"}}
 },
 {
  "data": {"values": [
   {"line": 1, "part": "head", "text": "FIGURE 1"},
   {"line": 1, "part": "body", "text": "| Quantitative analysis of chemokine receptor mRNA levels in adrenal tissues and NCI-H295R cells. mRNA levels of chemokine receptors were assessed"},
   {"line": 2, "part": "full", "text": "by real time PCR in 18 adrenocortical carcinomas, 4 normal adrenal glands and the human adrenocortical carcinoma cell line NCI-H295R. Levels were normalized to"},
   {"line": 3, "part": "italic", "text": "β-actin"},
   {"line": 3, "part": "tail", "text": ". Data are given as mean ± SEM."}
  ]},
  "encoding": {
   "x": {"datum": 0, "type": "quantitative", "scale": {"domain": [0, 1], "range": [31, 1331]}, "axis": null},
   "y": {"field": "line", "type": "ordinal", "scale": {"type": "point", "domain": [1, 2, 3], "range": [649, 694], "padding": 0}, "axis": null},
   "text": {"field": "text"}
  },
  "layer": [
   {"transform": [{"filter": "datum.part == 'head'"}], "mark": {"type": "text", "align": "left", "baseline": "alphabetic", "font": "Liberation Sans", "fontSize": 16, "fontWeight": "bold", "color": "#222"}},
   {"transform": [{"filter": "datum.part == 'body'"}], "mark": {"type": "text", "align": "left", "baseline": "alphabetic", "font": "Liberation Sans", "fontSize": 17.5, "dx": 78, "color": "#222"}},
   {"transform": [{"filter": "datum.part == 'full'"}], "mark": {"type": "text", "align": "left", "baseline": "alphabetic", "font": "Liberation Sans", "fontSize": 17.5, "color": "#222"}},
   {"transform": [{"filter": "datum.part == 'italic'"}], "mark": {"type": "text", "align": "left", "baseline": "alphabetic", "font": "Liberation Sans", "fontSize": 17.5, "fontStyle": "italic", "color": "#222"}},
   {"transform": [{"filter": "datum.part == 'tail'"}], "mark": {"type": "text", "align": "left", "baseline": "alphabetic", "font": "Liberation Sans", "fontSize": 17.5, "dx": 53, "color": "#222"}}
  ]
 }
],
"resolve": {"scale": {"x": "independent", "y": "independent", "xOffset": "independent"}, "axis": {"x": "independent", "y": "independent"}}
}
